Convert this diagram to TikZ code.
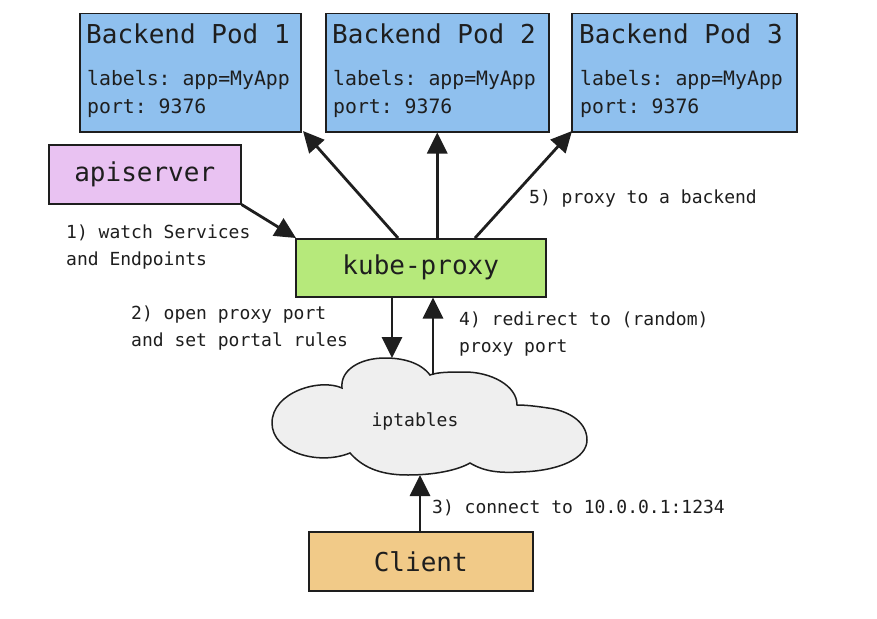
\documentclass[tikz,border=0pt]{standalone}
\usepackage{fontspec}
\setmonofont{DejaVu Sans Mono}
\usetikzlibrary{arrows.meta}
\definecolor{podblue}{HTML}{8FC0EE}
\definecolor{apipink}{HTML}{E9C2F2}
\definecolor{kpgreen}{HTML}{B6E97B}
\definecolor{clienttan}{HTML}{F1CA88}
\definecolor{cloudgray}{HTML}{EFEFEF}
\definecolor{ink}{HTML}{1E1E1E}
\tikzset{
  boxbase/.style={draw=ink, line width=1.5pt, inner sep=0pt, anchor=north west},
  big/.style={font=\ttfamily\fontsize{26}{30}\selectfont, text=ink},
  mid/.style={font=\ttfamily\fontsize{19.8}{24}\selectfont, anchor=base west, inner sep=0pt, text=ink},
  small/.style={font=\ttfamily\fontsize{18}{22}\selectfont, anchor=base west, inner sep=0pt, text=ink},
  bigt/.style={font=\ttfamily\fontsize{26}{30}\selectfont, anchor=base west, inner sep=0pt, text=ink},
  conn/.style={draw=ink, line width=2.8pt, -{Triangle[length=21pt,width=20pt]}},
}
\begin{document}
\begin{tikzpicture}[x=1pt,y=-1pt]
\useasboundingbox[fill=white] (0,0) rectangle (877,618);
% pods
\node[boxbase, fill=podblue, minimum width=221pt, minimum height=118pt] (p1) at (79,13) {};
\node[boxbase, fill=podblue, minimum width=223pt, minimum height=118pt] (p2) at (325,13) {};
\node[boxbase, fill=podblue, minimum width=225pt, minimum height=118pt] (p3) at (571,13) {};
\foreach \p/\x/\n in {p1/86/1,p2/332/2,p3/579/3}{
  \node[bigt] (\p t) at (\x,44) {Backend Pod \n};
  \node[mid] (\p l) at (\x+1,85) {labels: app=MyApp};
  \node[mid] (\p r) at (\x+1,113) {port: 9376};
}
% apiserver
\node[boxbase, fill=apipink, minimum width=192pt, minimum height=59pt] (api) at (48,144) {};
\node[big] (apit) at (api.center) {apiserver};
% kube-proxy
\node[boxbase, fill=kpgreen, minimum width=250pt, minimum height=58pt] (kp) at (295,238) {};
\node[big] (kpt) at (kp.center) {kube-proxy};
% client
\node[boxbase, fill=clienttan, minimum width=224pt, minimum height=59pt] (cl) at (308,531) {};
\node[big] (clt) at (cl.center) {Client};
% cloud
\draw[draw=ink, line width=1.5pt, fill=cloudgray]
  (342,388) .. controls (320,378) and (272,392) .. (272,423)
  .. controls (272,452) and (318,466) .. (350,453)
  .. controls (365,470) and (385,475) .. (408,475)
  .. controls (435,475) and (458,470) .. (470,463)
  .. controls (485,472) and (500,473) .. (520,472)
  .. controls (560,471) and (587,458) .. (587,440)
  .. controls (587,420) and (565,410) .. (548,408)
  .. controls (535,406) and (525,405) .. (517,405)
  .. controls (517,385) and (490,372) .. (465,372)
  .. controls (450,372) and (438,372) .. (430,375)
  .. controls (420,362) and (402,358) .. (385,358)
  .. controls (360,358) and (340,370) .. (342,388) -- cycle;
\node[small, anchor=center] (iptt) at (415,421) {iptables};
% connector anchors
\coordinate (a1) at (296,238);
\coordinate (b1) at (398,238);
\coordinate (b3) at (475,238);
\coordinate (t1) at (303,131);
\coordinate (t3) at (572,131);
\coordinate (cdn) at (392,358);
\coordinate (cup) at (433,375);
\coordinate (cbt) at (420,475);
% connectors
\draw[conn] (api.south east) -- (a1);
\draw[conn] (b1) -- (t1);
\draw[conn] (kp.north -| p2.south) -- (p2.south);
\draw[conn] (b3) -- (t3);
\draw[conn] (kp.south -| cdn) -- (cdn);
\draw[conn] (cup) -- (kp.south -| cup);
\draw[conn] (cl.north -| cbt) -- (cbt);
% labels
\node[small] (l1a) at (66,238) {1) watch Services};
\node[small] (l1b) at (66,265) {and Endpoints};
\node[small] (l5) at (529,203) {5) proxy to a backend};
\node[small] (l2a) at (131,319) {2) open proxy port};
\node[small] (l2b) at (131,346) {and set portal rules};
\node[small] (l4a) at (459,325) {4) redirect to (random)};
\node[small] (l4b) at (459,352) {proxy port};
\node[small] (l3) at (432,513) {3) connect to 10.0.0.1:1234};
\end{tikzpicture}
\end{document}
